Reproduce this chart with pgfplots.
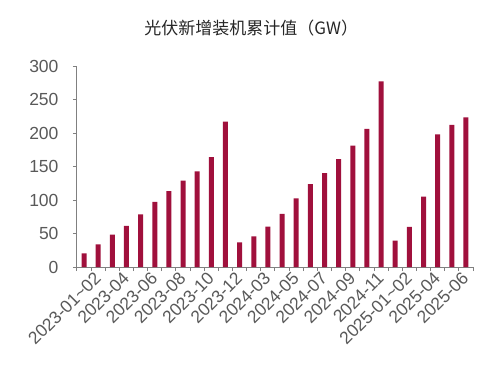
\documentclass[border=0pt]{standalone}
\usepackage{fontspec}
\setmainfont{Liberation Sans}
\newfontfamily\cjk{Noto Sans CJK SC}
\usepackage{pgfplots}
\pgfplotsset{compat=1.18}
\definecolor{barred}{HTML}{A0103C}
\definecolor{axgray}{HTML}{808080}
\definecolor{txtgray}{HTML}{595959}
\begin{document}
\begin{tikzpicture}
\path[use as bounding box] (-77pt,-100pt) rectangle (424pt,267pt);
\begin{axis}[
  scale only axis,
  width=396pt, height=201pt,
  xmin=-0.5, xmax=27.5,
  ymin=0, ymax=300,
  ytick={0,50,100,150,200,250,300},
  axis x line*=bottom,
  axis y line*=left,
  axis line style={axgray, line width=1pt},
  every tick/.style={axgray, line width=1pt},
  tick align=outside,
  major tick length=4pt,
  xtick={-0.5,0.5,...,27.5},
  xticklabels={},
  extra x ticks={0,2,...,26},
  extra x tick labels={2023-01\textasciitilde02,2023-04,2023-06,2023-08,2023-10,2023-12,2024-03,2024-05,2024-07,2024-09,2024-11,2025-01\textasciitilde02,2025-04,2025-06},
  extra x tick style={major tick length=0pt,
    tick label style={rotate=45, anchor=north east, inner sep=0pt, yshift=-9pt, xshift=4pt, font=\fontsize{17.5}{17}\selectfont, text=txtgray}},
  y tick label style={font=\fontsize{17.5}{17}\selectfont, text=txtgray, xshift=-11pt},
  /pgf/number format/assume math mode=true,
  title={\cjk 光伏新增装机累计值（GW）},
  title style={font=\fontsize{17}{17}\selectfont, text=black!85, at={(0.44,1)}, yshift=20pt},
  ybar, bar width=5pt,
  clip=false,
]
\addplot[fill=barred, draw=none] coordinates {
(0,20.37) (1,33.66) (2,48.31) (3,61.21) (4,78.42) (5,97.16) (6,113.16) (7,128.94) (8,142.56) (9,163.88) (10,216.88)
(11,36.72) (12,45.74) (13,60.11) (14,79.15) (15,102.48) (16,123.53) (17,139.99) (18,160.88) (19,181.30) (20,206.30) (21,277.17)
(22,39.47) (23,59.71) (24,104.93) (25,197.85) (26,212.21) (27,223.25)
};
\end{axis}
\end{tikzpicture}
\end{document}
